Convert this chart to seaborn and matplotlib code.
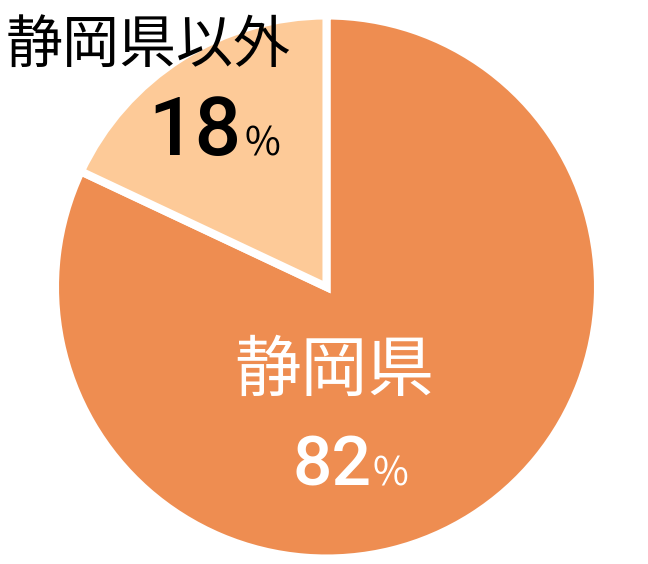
import matplotlib
matplotlib.use("Agg")
import matplotlib.pyplot as plt
import seaborn as sns

# ---- data ----
labels = ["静岡県", "静岡県以外"]
values = [82, 18]
colors = ["#EE8D51", "#FDCA98"]

sns.set_theme(style="white")
plt.rcParams["font.family"] = ["Noto Sans CJK JP", "DejaVu Sans"]

W, H, DPI = 648, 564, 100
fig = plt.figure(figsize=(W / DPI, H / DPI), dpi=DPI)
ax = fig.add_axes([0, 0, 1, 1])

ax.pie(values, colors=colors, startangle=90, counterclock=False, radius=1.0,
       wedgeprops=dict(edgecolor="white", linewidth=5.8, joinstyle="miter"))

# map pixel geometry: centre (326.5, 287 from top), radius 271.5 px
cx, cy, r = 326.5, 287.0, 271.5
ax.set_xlim(-cx / r, (W - cx) / r)
ax.set_ylim(-(H - cy) / r, cy / r)
ax.set_aspect("auto")
ax.axis("off")

def fx(px):
    return px / W

def fy(py):
    return 1 - py / H

num_font = ["Roboto", "DejaVu Sans"]

# label for small slice (outside, black)
fig.text(fx(148), fy(46), labels[1], ha="center", va="center",
         fontsize=41, color="black")
fig.text(fx(242), fy(155), f"{values[1]}", ha="right", va="baseline",
         fontsize=59, fontweight="medium", family=num_font, color="black")
fig.text(fx(245), fy(155), "%", ha="left", va="baseline",
         fontsize=28, color="black")

# label for big slice (inside, white)
fig.text(fx(334), fy(372), labels[0], ha="center", va="center",
         fontsize=48, color="white")
fig.text(fx(371), fy(486), f"{values[0]}", ha="right", va="baseline",
         fontsize=50, fontweight="medium", family=num_font, color="white")
fig.text(fx(373), fy(486), "%", ha="left", va="baseline",
         fontsize=28, color="white")

fig.savefig("out.png", dpi=DPI, facecolor="white")
